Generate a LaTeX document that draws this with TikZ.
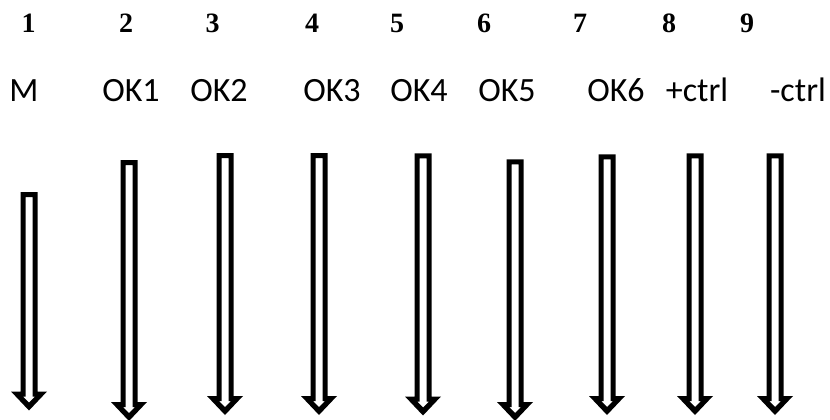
\documentclass[tikz,border=0pt]{standalone}
\usepackage{fontspec}
\setmainfont{Liberation Serif}
\newfontfamily\labelfont{Carlito}
\tikzset{
  numtext/.style={anchor=base, inner sep=0pt, font=\fontsize{28}{32}\selectfont\bfseries},
  labtext/.style={anchor=base, inner sep=0pt, font=\fontsize{34}{40}\selectfont\labelfont},
}
% hollow down arrow: #1 x centre, #2 top y, #3 tip y
\newcommand\hollowarrow[3]{%
  \fill[black, even odd rule]
    (#1-8.5,#2) -- (#1+8.5,#2) -- (#1+8.5,#3-19) -- (#1+18,#3-19) -- (#1,#3)
      -- (#1-18,#3-19) -- (#1-8.5,#3-19) -- cycle
    (#1-3.5,#2+5) -- (#1+3.5,#2+5) -- (#1+3.5,#3-14) -- (#1+6,#3-14) -- (#1,#3-8)
      -- (#1-6,#3-14) -- (#1-3.5,#3-14) -- cycle;
}
\begin{document}
\begin{tikzpicture}[x=1pt,y=-1pt]
\useasboundingbox (0,0) rectangle (830,420);
% column numbers
\node[numtext] (n1) at (28.5,33) {1};
\node[numtext] (n2) at (126,33) {2};
\node[numtext] (n3) at (212.5,33) {3};
\node[numtext] (n4) at (312,33) {4};
\node[numtext] (n5) at (397,33) {5};
\node[numtext] (n6) at (484,33) {6};
\node[numtext] (n7) at (580,33) {7};
\node[numtext] (n8) at (669,33) {8};
\node[numtext] (n9) at (747,33) {9};
% labels
\node[labtext] (l1) at (24,102) {M};
\node[labtext] (l2) at (131,102) {OK1};
\node[labtext] (l3) at (219,102) {OK2};
\node[labtext] (l4) at (332,102) {OK3};
\node[labtext] (l5) at (419,102) {OK4};
\node[labtext] (l6) at (507,102) {OK5};
\node[labtext] (l7) at (616,102) {OK6};
\node[labtext] (l8) at (697,102) {+ctrl};
\node[labtext] (l9) at (798,102) {-ctrl};
% arrows
\hollowarrow{29}{192}{410.5}
\hollowarrow{129}{160}{421}
\hollowarrow{225}{153}{415}
\hollowarrow{319}{153}{415}
\hollowarrow{423}{153.3}{415.5}
\hollowarrow{515}{159.3}{421}
\hollowarrow{607}{154.3}{415}
\hollowarrow{695}{153.3}{415}
\hollowarrow{775}{153.3}{415}
\end{tikzpicture}
\end{document}
